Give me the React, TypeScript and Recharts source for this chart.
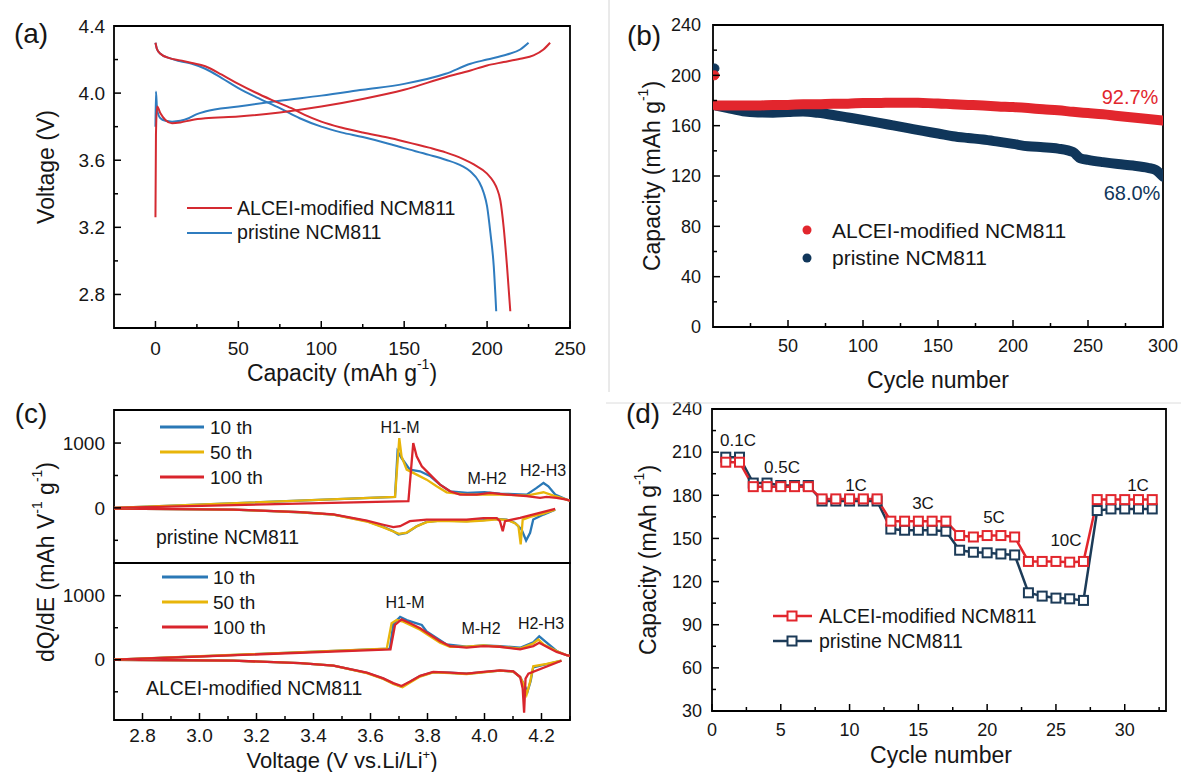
import React from 'react'
import { LineChart, Line, XAxis, YAxis, ReferenceArea } from 'recharts'

const W = 1181
const H = 772
const FONT = '"Liberation Sans", Arial, Helvetica, sans-serif'

// ---------- (a) charge / discharge profiles: [capacity, voltage]
const aRedCharge = [
  [0, 3.26], [0.3, 3.75], [1, 3.92], [3, 3.88], [6, 3.84], [10, 3.82], [15, 3.825], [22, 3.84],
  [30, 3.85], [50, 3.86], [75, 3.885], [100, 3.92], [125, 3.965], [150, 4.02], [175, 4.095],
  [190, 4.135], [200, 4.165], [210, 4.185], [220, 4.205], [228, 4.225], [234, 4.26], [238, 4.3],
]
const aBlueCharge = [
  [0, 3.8], [0.3, 4.01], [1, 3.9], [3, 3.85], [6, 3.835], [10, 3.83], [15, 3.835], [20, 3.85],
  [25, 3.875], [30, 3.89], [50, 3.92], [75, 3.955], [100, 3.985], [125, 4.02], [150, 4.055],
  [175, 4.115], [190, 4.175], [200, 4.2], [212, 4.23], [220, 4.26], [225, 4.3],
]
const aRedDischarge = [
  [0, 4.3], [1, 4.26], [3, 4.235], [8, 4.21], [15, 4.195], [22, 4.18], [30, 4.16], [40, 4.11],
  [50, 4.055], [60, 4.005], [70, 3.96], [82, 3.91], [90, 3.87], [100, 3.83], [112, 3.795],
  [125, 3.765], [140, 3.735], [150, 3.712], [165, 3.675], [175, 3.647], [185, 3.61], [192, 3.575],
  [200, 3.52], [204, 3.47], [206, 3.43], [208, 3.36], [210, 3.2], [212, 2.97], [214, 2.7],
]
const aBlueDischarge = [
  [0, 4.3], [1, 4.26], [3, 4.235], [8, 4.21], [15, 4.19], [22, 4.175], [30, 4.145], [40, 4.09],
  [50, 4.03], [62, 3.97], [75, 3.91], [87, 3.85], [100, 3.8], [112, 3.766], [125, 3.738],
  [140, 3.7], [150, 3.672], [165, 3.632], [175, 3.603], [185, 3.565], [190, 3.533], [195, 3.474],
  [198, 3.405], [200, 3.325], [202, 3.167], [204, 2.97], [205.5, 2.7],
]
const aXTicks = [0, 25, 50, 75, 100, 125, 150, 175, 200, 225, 250]
const aXMajor = [0, 50, 100, 150, 200, 250]
const aYTicks = [2.8, 3.0, 3.2, 3.4, 3.6, 3.8, 4.0, 4.2, 4.4]
const aYMajor = [2.8, 3.2, 3.6, 4.0, 4.4]

// ---------- (b) cycling
const bAlceiCycles = [2, 10, 20, 30, 40, 50, 60, 70, 80, 90, 100, 110, 120, 130, 140, 150, 160, 170, 180, 190, 200, 210, 220, 230, 240, 250, 260, 270, 280, 290, 300]
const bAlcei = [176, 176, 176, 176, 176.5, 176.5, 177, 177, 177.5, 177.5, 178, 178, 178.3, 178.3, 178, 177.7, 177, 176.5, 176, 175.3, 174.8, 174, 173, 172.2, 171, 170, 169, 167.7, 166.5, 165.3, 164]
const bPrisCycles = [2, 10, 20, 30, 40, 50, 60, 70, 80, 90, 100, 110, 120, 130, 140, 150, 160, 170, 180, 190, 200, 210, 220, 230, 240, 245, 250, 260, 270, 280, 290, 295, 300]
const bPris = [176, 174, 171.5, 170.5, 170.3, 170.8, 171.3, 170.2, 168.5, 166.5, 164.5, 162.4, 160.2, 158, 155.8, 153.8, 151.6, 150.2, 149, 147.3, 145.5, 143.6, 142.9, 141.8, 139, 134, 132.8, 131, 129.5, 128.3, 126.5, 124.8, 119.5]
const bFirstAlcei = [[1, 200]]
const bFirstPris = [[1, 205.5]]
const bXTicks = [25, 50, 75, 100, 125, 150, 175, 200, 225, 250, 275, 300]
const bXMajor = [50, 100, 150, 200, 250, 300]
const bYTicks = [0, 20, 40, 60, 80, 100, 120, 140, 160, 180, 200, 220, 240]
const bYMajor = [0, 40, 80, 120, 160, 200, 240]

// ---------- (c) dQ/dE: [voltage, dQ/dE]
const cPrisChg10 = [
  [2.7, 0], [3.686, 169], [3.695, 872], [3.709, 769], [3.738, 590], [3.774, 564], [3.81, 487],
  [3.844, 359], [3.879, 256], [3.94, 230], [4.0, 241], [4.054, 220], [4.148, 205], [4.183, 308],
  [4.207, 385], [4.224, 333], [4.248, 205], [4.288, 128], [4.3, 110],
]
const cPrisChg50 = [
  [2.7, 0], [3.686, 169], [3.701, 1077], [3.709, 795], [3.727, 590], [3.762, 513], [3.797, 436],
  [3.832, 333], [3.867, 241], [3.937, 205], [4.054, 205], [4.148, 190], [4.183, 220], [4.207, 241],
  [4.242, 190], [4.288, 128], [4.3, 110],
]
const cPrisChg100 = [
  [2.7, 0], [3.733, 103], [3.75, 1000], [3.762, 795], [3.78, 641], [3.809, 513], [3.844, 359],
  [3.879, 256], [3.914, 205], [3.973, 205], [4.019, 231], [4.078, 205], [4.148, 180], [4.195, 154],
  [4.218, 169], [4.253, 154], [4.288, 128], [4.3, 110],
]
const cPrisDis10 = [
  [2.7, -10], [3.119, -26], [3.353, -67], [3.47, -103], [3.587, -205], [3.645, -292], [3.68, -359],
  [3.698, -410], [3.727, -385], [3.762, -282], [3.797, -215], [3.844, -195], [3.937, -205],
  [3.996, -190], [4.043, -169], [4.078, -180], [4.107, -231], [4.13, -333], [4.146, -503],
  [4.16, -385], [4.171, -180], [4.207, -103], [4.248, -26],
]
const cPrisDis50 = [
  [2.7, -10], [3.119, -26], [3.353, -67], [3.47, -103], [3.587, -210], [3.645, -300], [3.68, -365],
  [3.7, -400], [3.727, -380], [3.762, -285], [3.797, -220], [3.844, -200], [3.937, -210],
  [3.996, -195], [4.043, -175], [4.078, -185], [4.107, -235], [4.119, -282], [4.127, -564],
  [4.134, -180], [4.16, -138], [4.207, -87], [4.248, -26],
]
const cPrisDis100 = [
  [2.7, -10], [3.119, -26], [3.353, -65], [3.47, -100], [3.587, -195], [3.645, -260], [3.68, -297],
  [3.704, -282], [3.738, -205], [3.797, -180], [3.879, -180], [3.937, -180], [3.996, -159],
  [4.043, -159], [4.054, -205], [4.064, -359], [4.072, -205], [4.125, -154], [4.183, -87], [4.248, -15],
]
const cAlcChg10 = [
  [2.7, 0], [3.668, 173], [3.68, 560], [3.704, 670], [3.727, 619], [3.762, 569], [3.78, 543],
  [3.797, 442], [3.832, 340], [3.867, 239], [3.937, 203], [3.996, 223], [4.054, 213], [4.125, 188],
  [4.171, 274], [4.192, 365], [4.212, 289], [4.253, 137], [4.288, 71], [4.3, 60],
]
const cAlcChg50 = [
  [2.7, 0], [3.657, 173], [3.674, 569], [3.692, 619], [3.715, 594], [3.739, 543], [3.774, 467],
  [3.809, 365], [3.844, 264], [3.879, 203], [3.937, 203], [3.996, 223], [4.054, 203], [4.125, 173],
  [4.171, 254], [4.189, 315], [4.207, 239], [4.253, 137], [4.288, 71], [4.3, 60],
]
const cAlcChg100 = [
  [2.7, 0], [3.67, 162], [3.686, 543], [3.709, 629], [3.739, 569], [3.774, 492], [3.809, 391],
  [3.844, 289], [3.879, 213], [3.937, 188], [3.996, 213], [4.054, 203], [4.125, 162], [4.171, 213],
  [4.192, 264], [4.218, 203], [4.253, 122], [4.288, 71], [4.3, 60],
]
const cAlcDis10 = [
  [2.7, 0], [3.119, -15], [3.353, -51], [3.47, -91], [3.587, -203], [3.645, -294], [3.68, -371],
  [3.709, -421], [3.739, -345], [3.774, -254], [3.82, -193], [3.879, -203], [3.937, -218],
  [3.996, -193], [4.054, -168], [4.101, -183], [4.125, -269], [4.137, -371], [4.151, -497],
  [4.162, -330], [4.171, -117], [4.218, -70], [4.27, -15],
]
const cAlcDis50 = [
  [2.7, 0], [3.119, -15], [3.353, -51], [3.47, -93], [3.587, -208], [3.645, -300], [3.68, -378],
  [3.712, -430], [3.739, -355], [3.774, -262], [3.82, -198], [3.879, -208], [3.937, -222],
  [3.996, -196], [4.054, -170], [4.101, -185], [4.125, -269], [4.136, -371], [4.148, -538],
  [4.16, -345], [4.171, -102], [4.218, -66], [4.27, -15],
]
const cAlcDis100 = [
  [2.7, 0], [3.119, -15], [3.353, -51], [3.47, -90], [3.587, -200], [3.645, -290], [3.68, -365],
  [3.709, -410], [3.739, -340], [3.774, -250], [3.82, -190], [3.879, -200], [3.937, -215],
  [3.996, -190], [4.054, -165], [4.101, -180], [4.125, -269], [4.134, -447], [4.139, -827],
  [4.144, -294], [4.154, -218], [4.27, -15],
]
const cXTicks = [2.8, 2.9, 3.0, 3.1, 3.2, 3.3, 3.4, 3.5, 3.6, 3.7, 3.8, 3.9, 4.0, 4.1, 4.2, 4.3]
const cXMajor = [2.8, 3.0, 3.2, 3.4, 3.6, 3.8, 4.0, 4.2]
const cYTicks = [-500, 0, 500, 1000]
const cYMajor = [0, 1000]

// ---------- (d) rate capability
const dCycles = [1, 2, 3, 4, 5, 6, 7, 8, 9, 10, 11, 12, 13, 14, 15, 16, 17, 18, 19, 20, 21, 22, 23, 24, 25, 26, 27, 28, 29, 30, 31, 32]
const dAlcei = [203, 203, 186, 186, 186, 186, 186, 177.5, 177.5, 177.5, 177.5, 177.5, 162, 162, 162, 162, 162, 152, 151, 152, 152, 151, 134, 134, 134, 133.5, 134, 177, 177, 177, 177, 177]
const dPris = [206.5, 206.5, 188.5, 188.5, 186.8, 186.8, 186.8, 176, 176, 176, 176, 176, 156.5, 155.7, 155.7, 155.7, 155, 141.8, 140.4, 140, 139.2, 138.5, 112.2, 109.9, 108.5, 108, 106.9, 169.4, 170.5, 170.5, 170.5, 170.5]
const dRateLabels = ['0.1C', '0.5C', '1C', '3C', '5C', '10C', '1C']
const dXTicks = [0, 2.5, 5, 7.5, 10, 12.5, 15, 17.5, 20, 22.5, 25, 27.5, 30, 32.5]
const dXMajor = [0, 5, 10, 15, 20, 25, 30]
const dYTicks = [30, 45, 60, 75, 90, 105, 120, 135, 150, 165, 180, 195, 210, 225, 240]
const dYMajor = [30, 60, 90, 120, 150, 180, 210, 240]

const A_RED = '#d42a31'
const A_BLUE = '#2f7cbf'
const B_RED = '#e2262d'
const B_NAVY = '#10365a'
const C_BLUE = '#2a78b6'
const C_YEL = '#e8b50a'
const C_RED = '#d9252c'
const D_RED = '#e2262d'
const D_NAVY = '#1c3b58'
const INK = '#161616'

const YW = 50
const XH = 40

const pts = (rows: number[][]) => rows.map(([x, y]) => ({ x, y }))
const zip = (xs: number[], ys: number[]) => xs.map((x, i) => ({ x, y: ys[i] }))
const isMajor = (v: number, major: number[]) => major.some((m) => Math.abs(m - v) < 1e-6)

const frameA = { l: 114, t: 26, r: 570, b: 328 }
const frameB = { l: 713, t: 25, r: 1163, b: 327 }
const frameC1 = { l: 114, t: 410, r: 570, b: 563 }
const frameC2 = { l: 114, t: 563, r: 570, b: 720 }
const frameD = { l: 712, t: 409, r: 1166, b: 711 }
const marginOf = (f: { l: number; t: number; r: number; b: number }, xh = XH) => ({
  left: f.l - YW,
  top: f.t,
  right: W - f.r,
  bottom: H - f.b - xh,
})

function xTick(major: number[], fmt: (v: number) => string, dy: number, size = 19) {
  return (p: any) => {
    const v = p.payload.value
    const big = isMajor(v, major)
    return (
      <g>
        <line x1={p.x} x2={p.x} y1={p.y} y2={p.y - (big ? 7 : 4)} stroke="#000" strokeWidth={1.5} />
        {big && (
          <text x={p.x} y={p.y + dy} textAnchor="middle" fontSize={size} fontFamily={FONT} fill={INK}>
            {fmt(v)}
          </text>
        )}
      </g>
    )
  }
}

function yTick(major: number[], fmt: (v: number) => string, dx: number, size = 19) {
  return (p: any) => {
    const v = p.payload.value
    const big = isMajor(v, major)
    return (
      <g>
        <line x1={p.x} x2={p.x + (big ? 7 : 4)} y1={p.y} y2={p.y} stroke="#000" strokeWidth={1.5} />
        {big && (
          <text x={p.x - dx} y={p.y + size * 0.35} textAnchor="end" fontSize={size} fontFamily={FONT} fill={INK}>
            {fmt(v)}
          </text>
        )}
      </g>
    )
  }
}

const axisBase = {
  type: 'number' as const,
  interval: 0 as const,
  tickSize: 0,
  tickMargin: 0,
  axisLine: false,
  tickLine: false,
  allowDataOverflow: true,
}

const layer: React.CSSProperties = { position: 'absolute', left: 0, top: 0 }

function PanelA() {
  return (
    <div style={layer}>
      <LineChart width={W} height={H} margin={marginOf(frameA)}>
        <XAxis {...axisBase} dataKey="x" domain={[-25, 250]} ticks={aXTicks} height={XH}
          tick={xTick(aXMajor, (v) => String(v), 27)} />
        <YAxis {...axisBase} domain={[2.6, 4.4]} ticks={aYTicks} width={YW}
          tick={yTick(aYMajor, (v) => v.toFixed(1), 9)} />
        <ReferenceArea x1={-25} x2={250} y1={2.6} y2={4.4} fill="none" stroke="#000" strokeWidth={1.8} ifOverflow="visible" />
        <Line data={pts(aBlueCharge)} dataKey="y" type="monotone" stroke={A_BLUE} strokeWidth={2} dot={false} isAnimationActive={false} />
        <Line data={pts(aBlueDischarge)} dataKey="y" type="monotone" stroke={A_BLUE} strokeWidth={2} dot={false} isAnimationActive={false} />
        <Line data={pts(aRedCharge)} dataKey="y" type="monotone" stroke={A_RED} strokeWidth={2} dot={false} isAnimationActive={false} />
        <Line data={pts(aRedDischarge)} dataKey="y" type="monotone" stroke={A_RED} strokeWidth={2} dot={false} isAnimationActive={false} />
      </LineChart>
    </div>
  )
}

function PanelB() {
  return (
    <div style={layer}>
      <LineChart width={W} height={H} margin={marginOf(frameB)}>
        <XAxis {...axisBase} dataKey="x" domain={[0, 300]} ticks={bXTicks} height={XH}
          tick={xTick(bXMajor, (v) => String(v), 25, 18)} />
        <YAxis {...axisBase} domain={[0, 240]} ticks={bYTicks} width={YW}
          tick={yTick(bYMajor, (v) => String(v), 12, 18)} />
        <ReferenceArea x1={0} x2={300} y1={0} y2={240} fill="none" stroke="#000" strokeWidth={1.8} ifOverflow="visible" />
        <Line data={zip(bPrisCycles, bPris)} dataKey="y" type="monotone" stroke={B_NAVY} strokeWidth={10} strokeLinecap="round" dot={false} isAnimationActive={false} />
        <Line data={zip(bAlceiCycles, bAlcei)} dataKey="y" type="monotone" stroke={B_RED} strokeWidth={10} strokeLinecap="round" dot={false} isAnimationActive={false} />
        <Line data={pts(bFirstPris)} dataKey="y" stroke={B_NAVY} dot={{ r: 4.5, fill: B_NAVY, stroke: B_NAVY }} isAnimationActive={false} />
        <Line data={pts(bFirstAlcei)} dataKey="y" stroke={B_RED} dot={{ r: 4.5, fill: B_RED, stroke: B_RED }} isAnimationActive={false} />
      </LineChart>
    </div>
  )
}

function cLines(set: number[][][]) {
  const colors = [C_BLUE, C_YEL, C_RED, C_BLUE, C_YEL, C_RED]
  return set.map((rows, i) => (
    <Line key={i} data={pts(rows)} dataKey="y" type="linear" stroke={colors[i]} strokeWidth={2.3} dot={false} isAnimationActive={false} />
  ))
}

function PanelC() {
  return (
    <>
      <div style={layer}>
        <LineChart width={W} height={H} margin={marginOf(frameC1, 0)}>
          <XAxis {...axisBase} dataKey="x" domain={[2.7, 4.3]} ticks={cXTicks} height={0} hide />
          <YAxis {...axisBase} domain={[-850, 1510]} ticks={cYTicks} width={YW}
            tick={yTick(cYMajor, (v) => String(v), 9)} />
          <ReferenceArea x1={2.7} x2={4.3} y1={-850} y2={1510} fill="none" stroke="#000" strokeWidth={1.8} ifOverflow="visible" />
          {cLines([cPrisDis10, cPrisDis50, cPrisDis100, cPrisChg10, cPrisChg50, cPrisChg100])}
        </LineChart>
      </div>
      <div style={layer}>
        <LineChart width={W} height={H} margin={marginOf(frameC2)}>
          <XAxis {...axisBase} dataKey="x" domain={[2.7, 4.3]} ticks={cXTicks} height={XH}
            tick={xTick(cXMajor, (v) => v.toFixed(1), 22)} />
          <YAxis {...axisBase} domain={[-940, 1510]} ticks={cYTicks} width={YW}
            tick={yTick(cYMajor, (v) => String(v), 9)} />
          <ReferenceArea x1={2.7} x2={4.3} y1={-940} y2={1510} fill="none" stroke="#000" strokeWidth={1.8} ifOverflow="visible" />
          {cLines([cAlcDis10, cAlcDis50, cAlcDis100, cAlcChg10, cAlcChg50, cAlcChg100])}
        </LineChart>
      </div>
    </>
  )
}

const squareDot = (color: string) => (p: any) => (
  <rect key={`sq-${p.index}`} x={p.cx - 4.5} y={p.cy - 4.5} width={9} height={9} fill="#fff" stroke={color} strokeWidth={2} />
)

function PanelD() {
  const rows = dCycles.map((c, i) => ({ x: c, alcei: dAlcei[i], pris: dPris[i] }))
  return (
    <div style={layer}>
      <LineChart width={W} height={H} margin={marginOf(frameD)} data={rows}>
        <XAxis {...axisBase} dataKey="x" domain={[0, 33]} ticks={dXTicks} height={XH}
          tick={xTick(dXMajor, (v) => String(v), 25, 18)} />
        <YAxis {...axisBase} domain={[30, 240]} ticks={dYTicks} width={YW}
          tick={yTick(dYMajor, (v) => String(v), 10, 18)} />
        <ReferenceArea x1={0} x2={33} y1={30} y2={240} fill="none" stroke="#000" strokeWidth={1.8} ifOverflow="visible" />
        <Line dataKey="pris" type="linear" stroke={D_NAVY} strokeWidth={2.5} dot={squareDot(D_NAVY)} isAnimationActive={false} />
        <Line dataKey="alcei" type="linear" stroke={D_RED} strokeWidth={2.5} dot={squareDot(D_RED)} isAnimationActive={false} />
      </LineChart>
    </div>
  )
}

function T(props: any) {
  const { x, y, size = 19, anchor = 'start', rot, color = INK, children } = props
  return (
    <text
      x={rot ? 0 : x}
      y={rot ? 0 : y}
      transform={rot ? `translate(${x},${y}) rotate(${rot})` : undefined}
      fontSize={size}
      fontFamily={FONT}
      fill={color}
      textAnchor={anchor}
      dominantBaseline="central"
    >
      {children}
    </text>
  )
}

function CapTitle() {
  return (
    <>
      <tspan>Capacity (mAh g</tspan>
      <tspan dy={-9} fontSize={14}>-1</tspan>
      <tspan dy={9}>)</tspan>
    </>
  )
}

function Overlay() {
  return (
    <svg width={W} height={H} style={{ ...layer, pointerEvents: 'none' }}>
      <line x1={609} y1={0} x2={609} y2={392} stroke="#d4d4d4" strokeWidth={1} />
      <line x1={606} y1={403} x2={W} y2={403} stroke="#dcdcdc" strokeWidth={1} />

      <T x={31} y={33} size={28} anchor="middle">(a)</T>
      <T x={644} y={35} size={28} anchor="middle">(b)</T>
      <T x={31} y={413} size={28} anchor="middle">(c)</T>
      <T x={643} y={413} size={28} anchor="middle">(d)</T>

      <T x={46} y={167} size={23} anchor="middle" rot={-90}>Voltage (V)</T>
      <T x={342} y={373} size={23} anchor="middle"><CapTitle /></T>
      <line x1={187} x2={232} y1={208} y2={208} stroke={A_RED} strokeWidth={2.2} />
      <line x1={187} x2={232} y1={233} y2={233} stroke={A_BLUE} strokeWidth={2.2} />
      <T x={237} y={208} size={19.6}>ALCEI-modified NCM811</T>
      <T x={237} y={232} size={19.6}>pristine NCM811</T>

      <T x={652} y={176} size={23} anchor="middle" rot={-90}><CapTitle /></T>
      <T x={938} y={380} size={23} anchor="middle">Cycle number</T>
      <circle cx={807} cy={230} r={4.5} fill={B_RED} />
      <circle cx={807} cy={258} r={4.5} fill={B_NAVY} />
      <T x={832} y={230} size={21}>ALCEI-modified NCM811</T>
      <T x={832} y={257} size={21}>pristine NCM811</T>
      <T x={1130} y={97} size={20} anchor="middle" color={B_RED}>92.7%</T>
      <T x={1132} y={193} size={20} anchor="middle" color={B_NAVY}>68.0%</T>

      <T x={46} y={562} size={23} anchor="middle" rot={-90}>
        <tspan>dQ/dE (mAh V</tspan>
        <tspan dy={-9} fontSize={14}>-1</tspan>
        <tspan dy={9}> g</tspan>
        <tspan dy={-9} fontSize={14}>-1</tspan>
        <tspan dy={9}>)</tspan>
      </T>
      <T x={342} y={760} size={22} anchor="middle">
        <tspan>Voltage (V vs.Li/Li</tspan>
        <tspan dy={-6} fontSize={13}>+</tspan>
        <tspan dy={6}>)</tspan>
      </T>
      {[C_BLUE, C_YEL, C_RED].map((c, i) => (
        <g key={`lt${i}`}>
          <line x1={160} x2={204} y1={427 + i * 25} y2={427 + i * 25} stroke={c} strokeWidth={3} />
          <line x1={162} x2={208} y1={577 + i * 25} y2={577 + i * 25} stroke={c} strokeWidth={3} />
        </g>
      ))}
      {['10 th', '50 th', '100 th'].map((s, i) => (
        <g key={`ls${i}`}>
          <T x={210} y={427 + i * 25}>{s}</T>
          <T x={213} y={577 + i * 25}>{s}</T>
        </g>
      ))}
      <T x={400} y={427} size={16} anchor="middle">H1-M</T>
      <T x={487} y={478} size={16} anchor="middle">M-H2</T>
      <T x={543} y={470} size={16} anchor="middle">H2-H3</T>
      <T x={405} y={602} size={16} anchor="middle">H1-M</T>
      <T x={481} y={628} size={16} anchor="middle">M-H2</T>
      <T x={541} y={623} size={16} anchor="middle">H2-H3</T>
      <T x={156} y={537} size={19.4}>pristine NCM811</T>
      <T x={146} y={688} size={19.4}>ALCEI-modified NCM811</T>

      <T x={648} y={560} size={23} anchor="middle" rot={-90}><CapTitle /></T>
      <T x={941} y={755} size={23} anchor="middle">Cycle number</T>
      <line x1={773} x2={812} y1={616} y2={616} stroke={D_RED} strokeWidth={2.5} />
      <rect x={787.5} y={611.5} width={9} height={9} fill="#fff" stroke={D_RED} strokeWidth={2} />
      <line x1={773} x2={812} y1={641} y2={641} stroke={D_NAVY} strokeWidth={2.5} />
      <rect x={787.5} y={636.5} width={9} height={9} fill="#fff" stroke={D_NAVY} strokeWidth={2} />
      <T x={819} y={616} size={19.5}>ALCEI-modified NCM811</T>
      <T x={819} y={641} size={19.5}>pristine NCM811</T>
      {[[738, 440], [782, 467], [856, 485], [923, 503], [994, 517], [1066, 540], [1138, 485]].map(([x, y], i) => (
        <T key={`r${i}`} x={x} y={y} size={17} anchor="middle">{dRateLabels[i]}</T>
      ))}
    </svg>
  )
}

export default function App() {
  return (
    <div style={{ position: 'absolute', left: 0, top: 0, width: W, height: H, background: '#fff', overflow: 'hidden' }}>
      <PanelA />
      <PanelB />
      <PanelC />
      <PanelD />
      <Overlay />
    </div>
  )
}
